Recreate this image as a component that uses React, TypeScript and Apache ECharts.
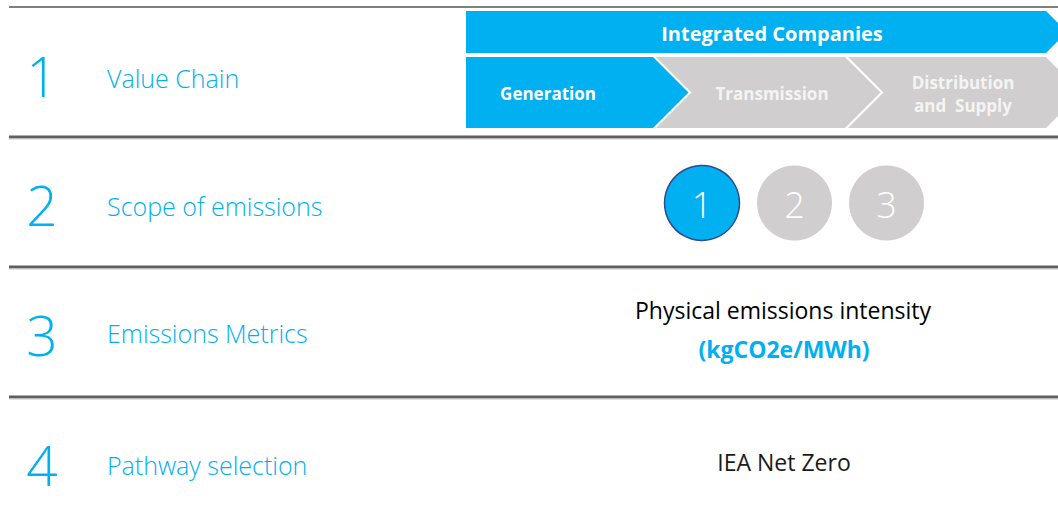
import React, { useEffect, useRef } from "react";
import * as echarts from "echarts";

const rowNumbers = ["1", "2", "3", "4"];
const rowLabels = ["Value Chain", "Scope of emissions", "Emissions Metrics", "Pathway selection"];
const chainHeader = "Integrated Companies";
const chainStages = ["Generation", "Transmission", "Distribution\nand  Supply"];
const chainActive = [true, false, false];
const scopes = ["1", "2", "3"];
const scopeActive = [true, false, false];
const metricTitle = "Physical emissions intensity";
const metricUnit = "(kgCO2e/MWh)";
const pathway = "IEA Net Zero";

const BLUE = "#00B0F0";
const GRAY = "#D0CECE";
const FONT = "'Open Sans', 'Noto Sans', sans-serif";

export default function App() {
  const ref = useRef<HTMLDivElement>(null);
  useEffect(() => {
    if (!ref.current) return;
    const chart = echarts.init(ref.current, null, { renderer: "svg" });
    const els: any[] = [];
    // separators
    const lineYs = [7, 137, 267, 397];
    lineYs.forEach((y, i) => {
      els.push({
        type: "rect",
        shape: { x: 9, y: i === 0 ? y - 1 : y - 1.5, width: 1060, height: i === 0 ? 2 : 3 },
        style: { fill: i === 0 ? "#7F7F7F" : "#5F5F5F" },
      });
      if (i > 0)
        els.push({ type: "rect", shape: { x: 9, y: y + 1.5, width: 1060, height: 1 }, style: { fill: "#C8C8C8" } });
    });
    const rowNumY = [75, 204, 334, 464];
    const rowLblY = [78, 206, 333, 465];
    rowNumbers.forEach((n, i) => {
      els.push({
        type: "text",
        x: 42,
        y: rowNumY[i],
        style: { text: n, fill: BLUE, font: `300 55px ${FONT}`, align: "center", verticalAlign: "middle" },
      });
      els.push({
        type: "text",
        x: 107,
        y: rowLblY[i],
        style: { text: rowLabels[i], fill: BLUE, font: `300 25px ${FONT}`, align: "left", verticalAlign: "middle" },
      });
    });
    // banner
    els.push({
      type: "polygon",
      shape: { points: [[466, 11], [1046, 11], [1067, 32], [1046, 53], [466, 53]] },
      style: { fill: BLUE },
    });
    els.push({
      type: "text",
      x: 772,
      y: 33,
      style: { text: chainHeader, fill: "#fff", font: `bold 20px ${FONT}`, align: "center", verticalAlign: "middle" },
    });
    const top = 57, bot = 128, mid = 92.5, h = 35.5;
    const starts = [466, 656, 848];
    const ends = [653, 845, 1046];
    const textX = [548, 772, 963];
    chainStages.forEach((s, i) => {
      const x0 = starts[i], x1 = ends[i];
      const pts = i === 0
        ? [[x0, top], [x1, top], [x1 + h, mid], [x1, bot], [x0, bot]]
        : [[x0, top], [x1, top], [x1 + h, mid], [x1, bot], [x0, bot], [x0 + h, mid]];
      els.push({ type: "polygon", shape: { points: pts }, style: { fill: chainActive[i] ? BLUE : GRAY } });
      els.push({
        type: "text",
        x: textX[i],
        y: mid + 1,
        style: {
          text: s,
          fill: chainActive[i] ? "#fff" : "#F4F4F4",
          font: `bold 17px ${FONT}`,
          align: "center",
          verticalAlign: "middle",
          lineHeight: 23,
        },
      });
    });
    // scopes
    const cx = [702, 794.5, 886.5];
    scopes.forEach((s, i) => {
      els.push({
        type: "circle",
        shape: { cx: cx[i], cy: 203, r: 37.5 },
        style: scopeActive[i] ? { fill: BLUE, stroke: "#2E4B8F", lineWidth: 1.5 } : { fill: GRAY },
      });
      els.push({
        type: "text",
        x: cx[i],
        y: 204,
        style: { text: s, fill: "#fff", font: `300 36px ${FONT}`, align: "center", verticalAlign: "middle" },
      });
    });
    els.push({
      type: "text",
      x: 783,
      y: 310,
      style: { text: metricTitle, fill: "#000", font: `23px ${FONT}`, align: "center", verticalAlign: "middle" },
    });
    els.push({
      type: "text",
      x: 784,
      y: 349,
      style: { text: metricUnit, fill: BLUE, font: `bold 23px ${FONT}`, align: "center", verticalAlign: "middle" },
    });
    els.push({
      type: "text",
      x: 784,
      y: 462,
      style: { text: pathway, fill: "#1a1a1a", font: `23px ${FONT}`, align: "center", verticalAlign: "middle" },
    });
    chart.setOption({ animation: false, backgroundColor: "#fff", graphic: { elements: els } });
    return () => chart.dispose();
  }, []);
  return <div ref={ref} style={{ position: "fixed", left: 0, top: 0, width: 1058, height: 522 }} />;
}
